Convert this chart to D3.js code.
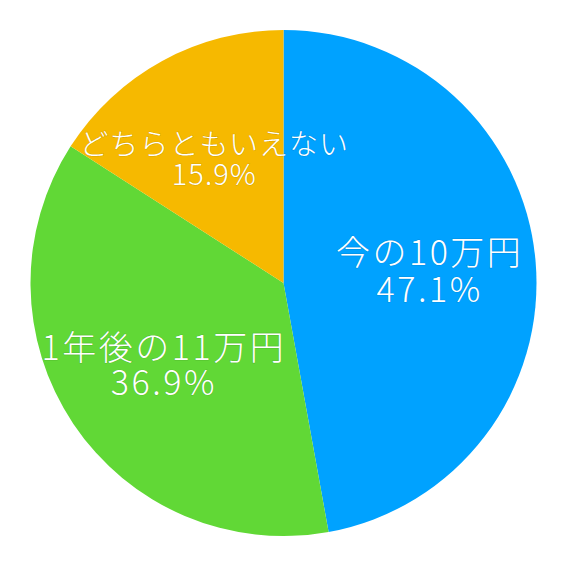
<!DOCTYPE html>
<html><head><meta charset="utf-8">
<script src="https://cdn.jsdelivr.net/npm/d3@7"></script>
<style>html,body{margin:0;padding:0;background:#fff;}</style>
</head><body>
<svg id="c" width="566" height="566"></svg>
<script>
const categories = ["今の10万円", "1年後の11万円", "どちらともいえない"];
const values = [47.1, 36.9, 15.9];
const labels = ["47.1%", "36.9%", "15.9%"];
const colors = ["#00A2FF", "#61D836", "#F6B900"];

// label styling (per slice)
const fontSizes = [34, 34, 29];
const lineHeights = [37, 35, 30];
const spacings = [2.5, 2.5, 1];

const cx = 283.5, cy = 283, R = 253;
const svg = d3.select("#c");
const g = svg.append("g").attr("transform", `translate(${cx},${cy})`);
const pie = d3.pie().sort(null).value(d => d)(values);
const arc = d3.arc().innerRadius(0).outerRadius(R);
const labelArc = d3.arc().innerRadius(R * 0.575).outerRadius(R * 0.575);
const color = d3.scaleOrdinal().domain(categories).range(colors);

g.selectAll("path").data(pie).join("path")
  .attr("d", arc)
  .attr("fill", (d, i) => color(categories[i]));

const t = g.selectAll("text").data(pie).join("text")
  .attr("transform", (d, i) => {
    const [x, y] = labelArc.centroid(d);
    return `translate(${x + spacings[i] / 2},${y + (i === 2 ? 4 : 1)})`;
  })
  .attr("text-anchor", "middle")
  .attr("font-family", "'Noto Sans CJK JP', sans-serif")
  .attr("font-weight", 300)
  .attr("font-size", (d, i) => fontSizes[i])
  .attr("letter-spacing", (d, i) => spacings[i])
  .attr("fill", "#fff")
  .style("paint-order", "stroke")
  .attr("stroke", "rgba(0,0,0,0.12)")
  .attr("stroke-width", 1.2);
t.append("tspan").attr("x", 0)
  .attr("y", (d, i) => -lineHeights[i] / 2 + fontSizes[i] * 0.36)
  .text((d, i) => categories[i]);
t.append("tspan").attr("x", 0)
  .attr("y", (d, i) => lineHeights[i] / 2 + fontSizes[i] * 0.36)
  .text((d, i) => labels[i]);
</script>
</body></html>
